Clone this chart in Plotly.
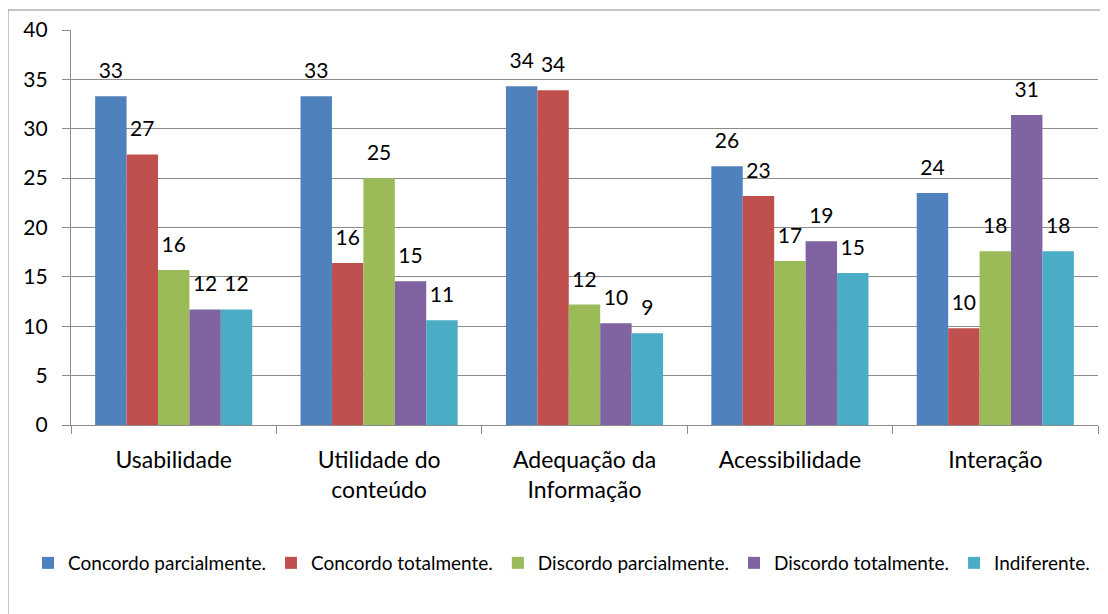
import plotly.graph_objects as go

categories = [
    "Usabilidade",
    "Utilidade do<br>conteúdo",
    "Adequação da<br>Informação",
    "Acessibilidade",
    "Interação",
]

concordo_parcial = [33.3, 33.3, 34.3, 26.2, 23.5]
concordo_total = [27.4, 16.4, 33.9, 23.2, 9.8]
discordo_parcial = [15.7, 25.0, 12.2, 16.6, 17.6]
discordo_total = [11.7, 14.55, 10.3, 18.6, 31.4]
indiferente = [11.7, 10.6, 9.3, 15.4, 17.6]

series = [
    ("Concordo parcialmente.", concordo_parcial, "#4F81BD"),
    ("Concordo totalmente.", concordo_total, "#C0504D"),
    ("Discordo parcialmente.", discordo_parcial, "#9BBB59"),
    ("Discordo totalmente.", discordo_total, "#8064A2"),
    ("Indiferente.", indiferente, "#4BACC6"),
]

FONT = "Lato"
# the page body adds an 8px margin, so the figure is a bit smaller than the window
W, H = 1100, 606
L, R, T, B = 63, 10, 22, 189
GRID = "#8c8c8c"
pw, ph = W - L - R, H - T - B


def px_x(x):
    return (x - L) / pw


def px_y(y):
    return (T + ph - y) / ph


fig = go.Figure()
for name, vals, color in series:
    # the small blank second line lifts the number a bit above the bar, like Excel
    fig.add_trace(go.Bar(
        x=categories, y=vals, name=name,
        marker=dict(color=color, line=dict(width=0)),
        text=[f"<span style='font-size:21px'>{round(v)}</span><br>\u00a0" for v in vals],
        textposition="outside",
        constraintext="none",
        cliponaxis=False,
        textfont=dict(family=FONT, size=10, color="#000000"),
    ))

fig.update_layout(
    width=W, height=H,
    margin=dict(l=L, r=R, t=T, b=B, autoexpand=False),
    paper_bgcolor="white", plot_bgcolor="white",
    barmode="group", bargap=0.235, bargroupgap=0,
    font=dict(family=FONT, size=20, color="#000000"),
    showlegend=True,
    legend=dict(
        orientation="h", x=px_x(20), xanchor="left",
        y=px_y(555), yanchor="middle",
        font=dict(family=FONT, size=19), itemwidth=30, traceorder="normal",
        bgcolor="rgba(0,0,0,0)",
    ),
    shapes=[dict(
        type="rect", xref="paper", yref="paper",
        x0=px_x(0), x1=px_x(W - 2),
        y0=px_y(H + 10), y1=px_y(2),
        line=dict(color=GRID, width=1), fillcolor="rgba(0,0,0,0)",
    )],
)
fig.update_xaxes(
    automargin=False,
    showline=True, linecolor=GRID, linewidth=1.3,
    ticks="outside", tickson="boundaries", ticklen=8, tickcolor=GRID,
    tickfont=dict(family=FONT, size=23), ticklabelstandoff=14, showgrid=False,
)
fig.update_yaxes(
    automargin=False,
    range=[0, 40], dtick=5,
    showline=True, linecolor=GRID, linewidth=1.3,
    ticks="outside", ticklen=8, tickcolor=GRID,
    showgrid=True, gridcolor=GRID, gridwidth=1.3, zeroline=False,
    tickfont=dict(family=FONT, size=21), ticklabelstandoff=10,
)

fig.write_html("out.html")
